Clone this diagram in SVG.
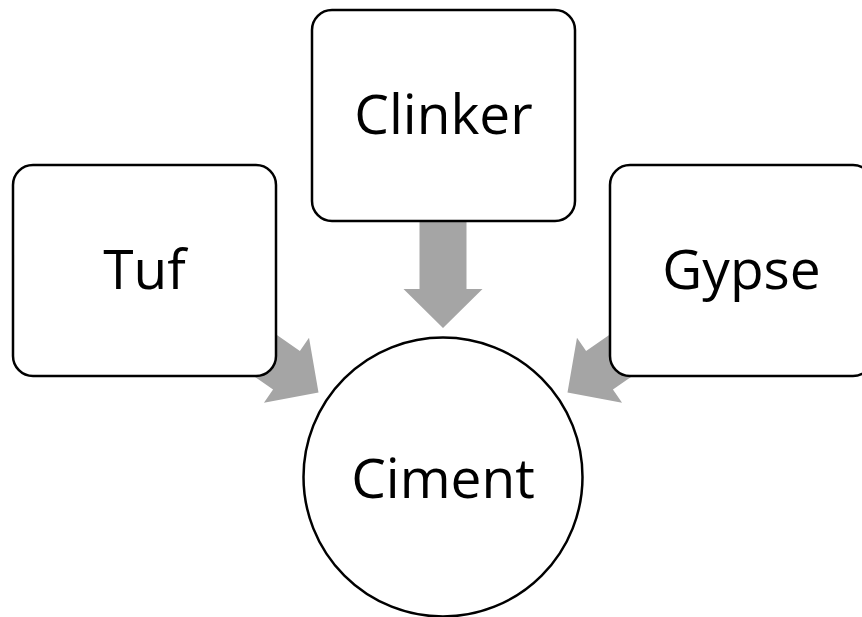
<svg xmlns="http://www.w3.org/2000/svg" width="862" height="617" viewBox="0 0 862 617">
  <style>
    .box { fill: #ffffff; stroke: #000000; stroke-width: 2.5; }
    .arrow { fill: #a5a5a5; stroke: none; }
    .label { font-family: "Open Sans", "Liberation Sans", sans-serif; font-size: 55px; fill: #000000; text-anchor: middle; }
  </style>
  <defs>
    <!-- block arrow pointing along +x, tip at the origin -->
    <polygon id="blockArrow" points="0,0 -39,-39.5 -39,-23.5 -107,-23.5 -107,23.5 -39,23.5 -39,39.5"/>
  </defs>
  <rect width="862" height="617" fill="#ffffff"/>

  <g id="connectors">
    <use href="#blockArrow" class="arrow" transform="translate(443,328) rotate(90)"/>
    <use href="#blockArrow" class="arrow" transform="translate(318.5,392.5) rotate(34.8)"/>
    <use href="#blockArrow" class="arrow" transform="translate(567.5,392.5) rotate(145.2)"/>
  </g>

  <g id="node-tuf">
    <rect class="box" x="13" y="165" width="263" height="211" rx="20" ry="20"/>
    <text class="label" x="144.5" y="289">Tuf</text>
  </g>

  <g id="node-clinker">
    <rect class="box" x="312" y="10" width="263" height="211" rx="20" ry="20"/>
    <text class="label" x="443.5" y="134">Clinker</text>
  </g>

  <g id="node-gypse">
    <rect class="box" x="610" y="165" width="263" height="211" rx="20" ry="20"/>
    <text class="label" x="741.5" y="289">Gypse</text>
  </g>

  <g id="node-ciment">
    <circle class="box" cx="443" cy="477" r="139.5"/>
    <text class="label" x="443" y="498">Ciment</text>
  </g>
</svg>
